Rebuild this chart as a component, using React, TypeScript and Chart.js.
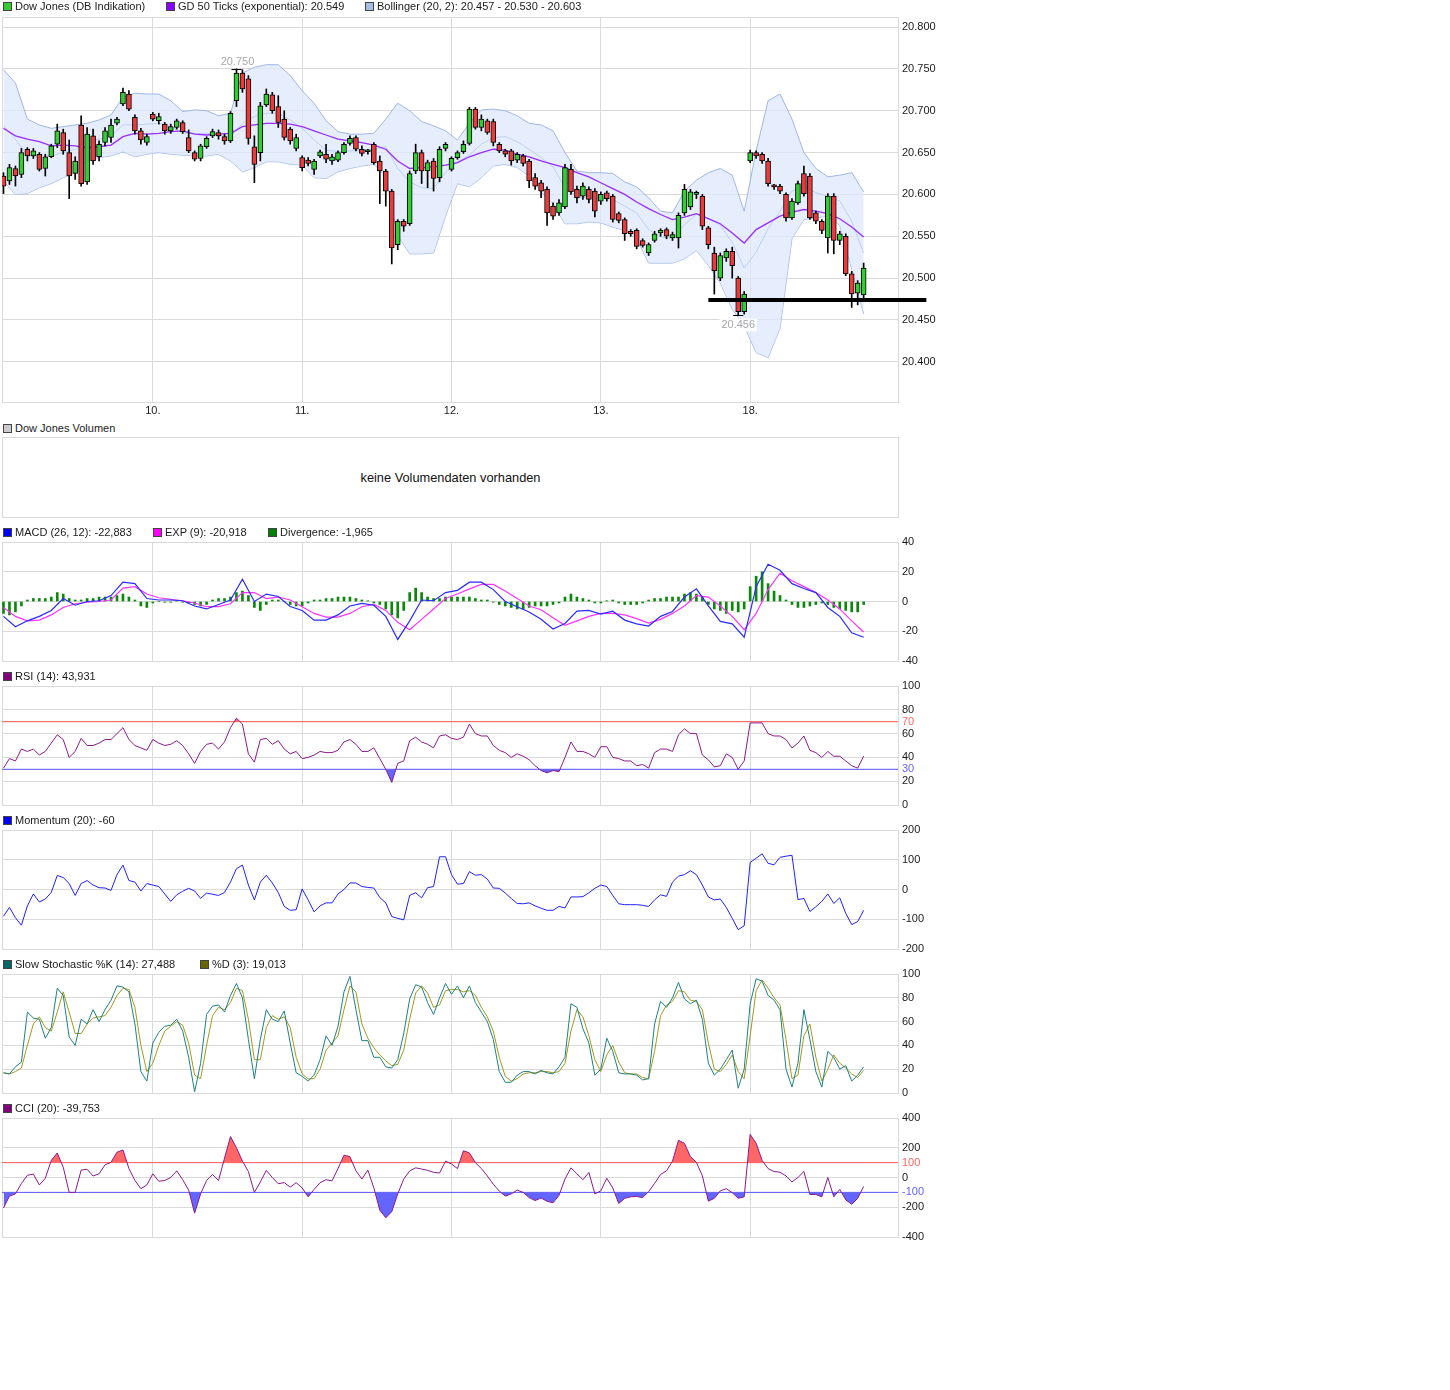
import React, { useEffect, useRef } from "react";
import { Chart, registerables } from "chart.js";

Chart.register(...registerables);

// ---------------- data ----------------
// x axis: one "slot" per tick period, day boundaries at these slots
const dayTicks = [50, 100, 150, 200, 250];
const dayLabels = ["10.", "11.", "12.", "13.", "18."];

// candles, one every 2 slots
const candleStep = 2;
const opens = [
  20622, 20616, 20631, 20624, 20654, 20646, 20648, 20631, 20645, 20660,
  20674, 20650, 20625, 20683, 20615, 20670, 20645, 20662, 20668, 20685,
  20708, 20720, 20692, 20676, 20662, 20696, 20688, 20684, 20676, 20680,
  20686, 20668, 20650, 20643, 20657, 20670, 20674, 20669, 20664, 20712,
  20745, 20738, 20657, 20650, 20707, 20719, 20705, 20690, 20678, 20655,
  20644, 20641, 20630, 20646, 20648, 20640, 20641, 20650, 20661, 20668,
  20654, 20651, 20660, 20640, 20628, 20604, 20540, 20568, 20565, 20628,
  20650, 20628, 20640, 20620, 20655, 20630, 20644, 20651, 20661, 20702,
  20680, 20688, 20687, 20660, 20652, 20652, 20641, 20646, 20640, 20620,
  20614, 20606, 20586, 20578, 20585, 20630, 20606, 20598, 20606, 20604,
  20592, 20602, 20598, 20577, 20570, 20556, 20557, 20545, 20530, 20545,
  20554, 20558, 20548, 20548, 20578, 20585, 20600, 20598, 20560, 20530,
  20500, 20524, 20532, 20500, 20460, 20640, 20650, 20648, 20640, 20610,
  20610, 20600, 20572, 20590, 20625, 20622, 20578, 20568, 20548, 20598,
  20545, 20550, 20505, 20482, 20480,
];
const highs = [
  20626, 20636, 20634, 20655, 20656, 20655, 20650, 20648, 20660, 20684,
  20678, 20665, 20645, 20694, 20680, 20678, 20664, 20680, 20690, 20692,
  20727, 20724, 20695, 20679, 20672, 20698, 20697, 20686, 20684, 20690,
  20688, 20677, 20652, 20660, 20669, 20678, 20677, 20672, 20699, 20750,
  20749, 20742, 20670, 20710, 20726, 20722, 20718, 20700, 20680, 20672,
  20646, 20644, 20642, 20653, 20660, 20648, 20652, 20662, 20670, 20670,
  20658, 20654, 20662, 20646, 20630, 20606, 20570, 20570, 20628, 20660,
  20653, 20641, 20643, 20657, 20662, 20645, 20652, 20664, 20704, 20704,
  20695, 20690, 20690, 20662, 20654, 20654, 20650, 20648, 20642, 20625,
  20617, 20609, 20590, 20594, 20636, 20636, 20610, 20614, 20609, 20607,
  20603, 20604, 20600, 20579, 20572, 20558, 20559, 20547, 20542, 20556,
  20559, 20560, 20555, 20578, 20612, 20606, 20604, 20600, 20562, 20537,
  20530, 20535, 20537, 20502, 20484, 20653, 20652, 20650, 20643, 20612,
  20612, 20602, 20595, 20616, 20634, 20625, 20580, 20570, 20601, 20601,
  20556, 20553, 20508, 20497, 20518,
];
const lows = [
  20601, 20612, 20610, 20620, 20640, 20643, 20628, 20622, 20644, 20656,
  20648, 20595, 20618, 20610, 20612, 20636, 20640, 20658, 20662, 20683,
  20706, 20700, 20672, 20660, 20659, 20688, 20684, 20672, 20673, 20678,
  20673, 20650, 20640, 20640, 20655, 20668, 20666, 20660, 20662, 20705,
  20722, 20660, 20614, 20640, 20705, 20697, 20680, 20665, 20660, 20652,
  20628, 20634, 20624, 20644, 20638, 20636, 20639, 20648, 20659, 20652,
  20646, 20648, 20636, 20589, 20586, 20517, 20534, 20556, 20563, 20625,
  20613, 20608, 20604, 20615, 20652, 20628, 20642, 20649, 20659, 20678,
  20676, 20672, 20658, 20650, 20645, 20635, 20638, 20634, 20608, 20606,
  20596, 20563, 20570, 20575, 20583, 20600, 20590, 20594, 20590, 20573,
  20588, 20592, 20567, 20566, 20545, 20550, 20535, 20537, 20527, 20543,
  20550, 20547, 20545, 20536, 20575, 20582, 20595, 20558, 20535, 20481,
  20497, 20520, 20500, 20456, 20457, 20638, 20643, 20637, 20610, 20606,
  20601, 20568, 20570, 20588, 20598, 20570, 20565, 20553, 20530, 20529,
  20540, 20503, 20465, 20468, 20476,
];
const closes = [
  20610, 20632, 20622, 20650, 20646, 20652, 20630, 20645, 20658, 20676,
  20652, 20622, 20640, 20613, 20672, 20640, 20660, 20676, 20683, 20690,
  20722, 20702, 20676, 20665, 20669, 20690, 20693, 20676, 20681, 20688,
  20675, 20652, 20642, 20658, 20667, 20675, 20670, 20664, 20697, 20745,
  20726, 20667, 20636, 20706, 20720, 20700, 20686, 20668, 20664, 20668,
  20632, 20637, 20640, 20651, 20642, 20645, 20650, 20660, 20667, 20654,
  20649, 20652, 20638, 20628, 20604, 20536, 20568, 20562, 20625, 20650,
  20628, 20638, 20619, 20654, 20660, 20643, 20650, 20660, 20702, 20680,
  20690, 20674, 20662, 20652, 20648, 20640, 20648, 20637, 20616, 20610,
  20604, 20578, 20574, 20590, 20632, 20603, 20596, 20610, 20594, 20580,
  20600, 20595, 20570, 20569, 20553, 20553, 20538, 20539, 20540, 20553,
  20557, 20550, 20552, 20575, 20606, 20603, 20601, 20562, 20540, 20509,
  20527, 20532, 20515, 20460, 20481, 20650, 20646, 20640, 20613, 20609,
  20604, 20572, 20592, 20613, 20601, 20572, 20568, 20557, 20598, 20545,
  20553, 20505, 20481, 20494, 20512,
];

// overlay lines and MACD, one value every 4 slots
const lineStep = 4;
const bollUpper = [
  20749, 20733, 20690, 20683, 20679, 20681, 20683, 20685, 20689, 20695,
  20716, 20721, 20720, 20720, 20712, 20699, 20701, 20700, 20694, 20697,
  20745, 20752, 20755, 20755, 20742, 20724, 20709, 20688, 20675, 20672,
  20672, 20673, 20690, 20709, 20700, 20687, 20682, 20676, 20665, 20685,
  20701, 20702, 20700, 20694, 20685, 20683, 20676, 20650, 20628, 20626,
  20626, 20625, 20615, 20609, 20596, 20580, 20578, 20604, 20617, 20626,
  20631, 20623, 20580, 20652, 20712, 20720, 20690, 20650, 20631, 20621,
  20623, 20626, 20603,
];
const bollMid = [
  20682, 20666, 20646, 20646, 20646, 20650, 20654, 20663, 20666, 20670,
  20683, 20683, 20684, 20685, 20681, 20673, 20673, 20673, 20671, 20669,
  20685, 20693, 20697, 20697, 20689, 20679, 20665, 20653, 20651, 20652,
  20653, 20654, 20657, 20631, 20615, 20608, 20607, 20626, 20639, 20647,
  20660, 20668, 20669, 20663, 20654, 20644, 20633, 20608, 20597, 20596,
  20596, 20594, 20586, 20578, 20558, 20549, 20548, 20564, 20576, 20571,
  20563, 20543, 20512, 20531, 20559, 20580, 20604, 20610, 20602, 20598,
  20592, 20568, 20530,
];
const bollLower = [
  20616, 20600, 20601, 20608, 20613, 20620, 20626, 20640, 20644, 20646,
  20651, 20645, 20648, 20650, 20648, 20647, 20646, 20646, 20648, 20640,
  20627, 20632, 20639, 20639, 20636, 20635, 20620, 20619, 20627, 20631,
  20634, 20636, 20622, 20551, 20529, 20529, 20530, 20574, 20613, 20609,
  20620, 20634, 20636, 20632, 20622, 20603, 20589, 20565, 20565, 20567,
  20566, 20561, 20557, 20547, 20518, 20518, 20518, 20523, 20533, 20515,
  20494, 20463, 20443, 20411, 20405, 20440, 20547, 20570, 20572, 20574,
  20563, 20511, 20457,
];
const gd50 = [
  20679, 20670, 20666, 20663, 20658, 20659, 20658, 20656, 20657, 20659,
  20669, 20673, 20672, 20673, 20675, 20676, 20672, 20671, 20672, 20673,
  20681, 20683, 20685, 20685, 20684, 20681, 20676, 20671, 20666, 20664,
  20662, 20659, 20654, 20640, 20631, 20632, 20633, 20635, 20638, 20645,
  20650, 20654, 20653, 20648, 20645, 20640, 20636, 20632, 20626, 20621,
  20614, 20607, 20600, 20591, 20583, 20576, 20570, 20573, 20577, 20571,
  20565, 20554, 20542, 20558, 20566, 20574, 20579, 20582, 20580, 20577,
  20571, 20561, 20549,
];
const supportLevel = 20474;
const supportFrom = 236;
const supportTo = 309;

const macd = [
  -10, -17, -13, -10, -6, 2, -2.5, 0, 0.5, 4,
  13, 12, 2, 1, 1, 0.5, -3, -5, -2, 1,
  15, 0, 5, 3.4, -3.4, -6, -12.5, -12.5, -9, -3,
  -1.3, -2.5, -10, -25.5, -13, 1, 0.5, 6, 7.5, 13,
  13, 8, 0, -3.5, -7, -12, -18.5, -14.8, -6.5, -6,
  -8.5, -6.5, -12.5, -15, -16.5, -10, -6.7, 3, 8.5, -3,
  -13.4, -15, -24, 10, 25, 21, 12, 8.7, 6, -4,
  -10, -21, -24,
];
const macdSignal = [
  -4, -10, -13, -12.5, -9, -4, -1.5, -0.5, 0, 1,
  9, 10, 5, 2.5, 1.5, 0.5, -1, -3.5, -3.5, -1.5,
  6, 6, 2, 3, 1, -3.5, -8, -10.5, -10.5, -8,
  -3.5, -2, -6, -14, -19, -12, -5, 2, 5, 8.5,
  11.5, 11.5, 7, 2, -3, -5.5, -11, -16, -13, -10,
  -8, -8, -9, -11.5, -14.5, -12, -8, -3, 4, 3,
  -3, -10, -19, -8, 8, 19, 14, 10, 6, 1,
  -5, -13, -20.5,
];

// divergence bars and oscillators, one value every 2 slots
const indStep = 2;
const divergence = [
  -8, -9, -7, -3, 1, 2, 2, 2, 3, 6,
  5, 2, 1, 1, 2, 2, 3, 3, 3, 4,
  5, 3, 1, -3, -4, -1, 0, -0.5, -0.5, 0.5,
  -0.5, -1, -2, -3, -2, 1, 2, 2, 3, 6,
  7, 4, -4, -6, -2, 1, 1, 0, -2, -3,
  -3, -1, 1, 1, 2, 2, 3, 3, 3, 2,
  1, 0.5, -1, -2, -5, -9, -11, -6, 6, 9,
  6, 3, 2, 2, 3, 3, 3, 3, 3, 2,
  1, 1, -0.5, -2, -3, -4, -5, -5, -4, -3,
  -3, -3, -2, -1, 3, 5, 3, 2, 1, -1,
  -1, 0.5, 1, -1, -2, -2, -2, -1, 1, 2,
  2, 3, 3, 3, 5, 6, 5, 3, -2, -5,
  -6, -8, -6, -7, -5, 10, 17, 20, 12, 7,
  4, 1, -2, -4, -4, -3, -2, -1, -2, -4,
  -5, -6, -7, -7, -2,
];
const rsi = [
  31, 39, 37, 47, 45, 47, 42, 45, 52, 59,
  55, 40, 45, 56, 50, 50, 52, 55, 55, 60,
  65, 55, 50, 48, 46, 55, 52, 50, 51, 54,
  50, 43, 35, 45, 51, 52, 47, 53, 65, 73,
  68, 43, 36, 55, 56, 51, 54, 47, 43, 45,
  39, 40, 42, 45, 44, 44, 46, 53, 55, 51,
  45, 45, 48, 39, 30, 19, 35, 37, 54, 57,
  53, 51, 48, 58, 59, 56, 55, 57, 68, 60,
  58, 58, 50, 46, 44, 40, 43, 41, 38, 33,
  29, 27, 29, 28, 40, 53, 45, 45, 43, 40,
  49, 49, 40, 39, 37, 37, 33, 34, 31, 44,
  47, 47, 45, 59, 64, 60, 60, 42, 38, 32,
  33, 43, 40, 30, 37, 69, 69, 69, 60, 58,
  58, 55, 48, 52, 58, 46, 44, 40, 45, 41,
  41, 37, 33, 31, 41,
];
const momentum = [
  -90, -60, -95, -120, -55, -15, -42, -32, -10, 47,
  40, 20, -20, 20, 30, 15, 6, 5, -3, 50,
  82, 30, 25, -5, 20, 15, 10, -15, -40, -18,
  -6, 4, -5, -30, -12, -16, -20, -10, 25, 70,
  82, 15, -35, 25, 48, 22, -10, -57, -70, -68,
  2, -35, -75, -55, -45, -45, -15, 0, 22, 22,
  10, 7, 5, -27, -45, -91, -97, -102, -20, -11,
  -28, 6, 10, 110, 110, 50, 18, 20, 60, 48,
  50, 35, 5, 4, -12, -30, -47, -48, -45, -55,
  -63, -70, -70, -57, -62, -25, -25, -24, -11, 4,
  15, 10, -20, -48, -51, -51, -51, -53, -57, -35,
  -18, -23, 25, 45, 50, 63, 50, 15, -25, -35,
  -32, -60, -97, -135, -122, 91, 105, 120, 88, 83,
  108, 112, 115, -34, -30, -74, -58, -40, -15, -47,
  -28, -80, -118, -108, -70,
];
const stochK = [
  17, 16, 22, 26, 68, 63, 62, 46, 55, 88,
  82, 47, 40, 62, 58, 70, 60, 70, 78, 90,
  89, 85, 58, 18, 10, 42, 51, 56, 57, 62,
  52, 30, 1, 25, 66, 73, 74, 68, 82, 92,
  80, 45, 12, 45, 70, 62, 60, 69, 42, 17,
  14, 10, 15, 28, 48, 40, 56, 85, 98, 70,
  44, 44, 30, 30, 22, 21, 28, 50, 79, 91,
  89, 76, 66, 80, 92, 83, 90, 80, 90, 76,
  68, 60, 45, 18, 9, 9, 15, 18, 18, 16,
  19, 17, 16, 22, 30, 75, 72, 54, 42, 15,
  20, 46, 35, 17, 16, 16, 15, 11, 12, 58,
  77, 72, 80, 93, 79, 75, 78, 62, 25, 15,
  20, 28, 36, 4, 20, 75, 96, 94, 82, 78,
  70, 20, 5, 25, 70, 45, 18, 5, 35, 30,
  20, 23, 10, 15, 22,
];
const stochD = [
  17, 16, 18, 21, 40, 58, 64, 55, 52, 68,
  85, 68, 50, 50, 58, 63, 64, 65, 72, 82,
  88, 87, 72, 40, 18, 25, 40, 52, 56, 60,
  57, 42, 15, 12, 40, 65, 72, 70, 76, 88,
  86, 62, 28, 28, 55, 65, 62, 64, 55, 30,
  16, 12, 12, 20, 36, 42, 48, 70, 90, 85,
  58, 46, 38, 32, 27, 23, 24, 36, 62, 84,
  90, 84, 72, 74, 86, 87, 87, 85, 86, 82,
  72, 64, 52, 30, 14, 10, 12, 16, 17, 17,
  18, 18, 17, 18, 25, 52, 70, 64, 48, 28,
  18, 32, 40, 26, 17, 16, 16, 13, 12, 35,
  65, 74, 77, 86, 85, 78, 77, 70, 42, 20,
  18, 24, 32, 18, 12, 48, 86, 95, 88, 80,
  74, 45, 12, 15, 48, 58, 30, 10, 20, 32,
  25, 21, 16, 13, 19,
];
const cci = [
  -205, -125, -110, -40, 15, 23, -50, -5, 115, 165,
  70, -100, -100, 50, 55, 10, 25, 85, 102, 170,
  185, 60, -20, -75, -50, 25, -25, -20, 0, 45,
  -15, -85, -240, -110, -20, 20, -20, 130, 275, 200,
  110, 40, -100, -30, 48, 0, -42, -34, -65, -35,
  -70, -130, -80, -35, -15, -23, 60, 150, 140, 45,
  -10, 50, -70, -220, -270, -230, -110, -11, 45, 65,
  57, 48, 35, 30, 110, 91, 60, 180, 165, 100,
  60, 10, -45, -91, -125, -110, -85, -100, -135, -155,
  -138, -160, -170, -120, -10, 65, 25, -15, 34, -110,
  -90, -5, -70, -175, -140, -130, -127, -135, -95, -40,
  20, 45, 110, 250, 230, 140, 102, 11, -159, -140,
  -90, -75, -102, -140, -130, 290, 230, 115, 60, 40,
  36, 10, -30, 0, 40, -114, -114, -130, 0, -130,
  -80, -150, -180, -140, -60,
];

// axis ticks and reference levels
const priceTicks = [20400, 20450, 20500, 20550, 20600, 20650, 20700, 20750, 20800];
const macdTicks = [-40, -20, 0, 20, 40];
const rsiTicks = [0, 20, 30, 40, 60, 70, 80, 100];
const momTicks = [-200, -100, 0, 100, 200];
const stochTicks = [0, 20, 40, 60, 80, 100];
const cciTicks = [-400, -200, -100, 0, 100, 200, 400];
const rsiHigh = 70;
const rsiLow = 30;
const cciHigh = 100;
const cciLow = -100;

// ---------------- styling ----------------
const FONT_FAMILY = "'Liberation Sans', Arial, Helvetica, sans-serif";
const TICK_FONT = { family: FONT_FAMILY, size: 11 };
const GRID = "#dadada";
const TEXT = "#1a1a1a";
const PLOT_W = 896;
const AXIS_W = 44;
const PAD = 12;
const SHIFT = 1;
const XMIN = -0.5;
const XMAX = 299.5;
const UP = "#33cc33";
const DOWN = "#e83c3c";
const CLEAR = "rgba(0,0,0,0)";
const RED_LINE = "#ff5a5a";
const BLUE_LINE = "#5a5aff";
const RED_FILL = "#ff6666";
const BLUE_FILL = "#6464ff";

const pts = (arr: number[], step: number) => arr.map((y, i) => ({ x: i * step, y }));
const level = (v: number) => [
  { x: XMIN, y: v },
  { x: XMAX, y: v },
];
const fmtPrice = (v: number) => (v / 1000).toFixed(3);
const intFmt = (v: number) => String(v);

const framePlugin = {
  id: "frame",
  beforeDatasetsDraw(chart: any) {
    const { ctx, chartArea: a } = chart;
    ctx.save();
    ctx.strokeStyle = GRID;
    ctx.lineWidth = 1;
    ctx.strokeRect(a.left + 0.5, a.top + 0.5, a.right - a.left, a.bottom - a.top);
    ctx.restore();
  },
};

const extremaPlugin = {
  id: "extrema",
  afterDatasetsDraw(chart: any) {
    const { ctx } = chart;
    const xs = chart.scales.x;
    const ys = chart.scales.y;
    const hi = Math.max(...highs);
    const hiI = highs.indexOf(hi);
    const lo = Math.min(...lows);
    const loI = lows.indexOf(lo);
    ctx.save();
    ctx.font = `11px ${FONT_FAMILY}`;
    ctx.textAlign = "center";
    ctx.strokeStyle = "#000";
    ctx.lineWidth = 1;
    const hx = xs.getPixelForValue(hiI * candleStep);
    const hy = Math.round(ys.getPixelForValue(hi)) + 0.5;
    ctx.beginPath();
    ctx.moveTo(hx - 5, hy);
    ctx.lineTo(hx + 5, hy);
    ctx.stroke();
    ctx.fillStyle = "#a8a8a8";
    ctx.textBaseline = "bottom";
    ctx.fillText(fmtPrice(hi), hx + 1, hy - 2);
    const lx = xs.getPixelForValue(loI * candleStep);
    const ly = Math.round(ys.getPixelForValue(lo)) + 0.5;
    ctx.beginPath();
    ctx.moveTo(lx - 5, ly);
    ctx.lineTo(lx + 5, ly);
    ctx.stroke();
    const t = fmtPrice(lo);
    const w = ctx.measureText(t).width;
    ctx.fillStyle = "rgba(255,255,255,0.85)";
    ctx.fillRect(lx - w / 2 - 2, ly + 3, w + 4, 13);
    ctx.fillStyle = "#a8a8a8";
    ctx.textBaseline = "top";
    ctx.fillText(t, lx, ly + 4);
    ctx.restore();
  },
};

function xScale(showLabels: boolean) {
  return {
    type: "linear",
    min: XMIN,
    max: XMAX,
    offset: false,
    afterBuildTicks: (s: any) => {
      s.ticks = dayTicks.map((v) => ({ value: v }));
    },
    afterFit: (s: any) => {
      s.height = showLabels ? 16 : 0;
    },
    grid: { color: GRID, drawTicks: false, lineWidth: 1, offset: false },
    border: { display: false },
    ticks: {
      display: showLabels,
      autoSkip: false,
      maxRotation: 0,
      padding: 2,
      font: TICK_FONT,
      color: TEXT,
      callback: (_v: any, i: number) => dayLabels[i],
    },
  };
}

function yScale(
  min: number,
  max: number,
  tickVals: number[],
  fmt: (v: number) => string,
  labelColors: Record<string, string> = {}
) {
  return {
    position: "right",
    min,
    max,
    afterBuildTicks: (s: any) => {
      s.ticks = tickVals.map((v) => ({ value: v }));
    },
    afterFit: (s: any) => {
      s.width = AXIS_W;
    },
    grid: { drawTicks: false, lineWidth: 1, color: GRID },
    border: { display: false },
    ticks: {
      autoSkip: false,
      padding: 4,
      font: TICK_FONT,
      color: (c: any) => (c.tick && labelColors[String(c.tick.value)]) || TEXT,
      callback: (v: any) => fmt(Number(v)),
    },
  };
}

function makeOptions(y: any, showLabels: boolean) {
  return {
    responsive: false,
    maintainAspectRatio: false,
    animation: false,
    devicePixelRatio: 1,
    events: [],
    layout: { padding: { top: PAD, bottom: showLabels ? 0 : PAD, left: 0, right: 0 } },
    plugins: { legend: { display: false }, tooltip: { enabled: false } },
    scales: { x: xScale(showLabels), y },
  };
}

const line = (data: any, color: string, width: number, order: number, extra: any = {}) => ({
  type: "line",
  data,
  borderColor: color,
  borderWidth: width,
  pointRadius: 0,
  tension: 0,
  fill: false,
  order,
  ...extra,
});

const mainConfig = () => ({
  type: "line",
  data: {
    datasets: [
      line(
        [
          { x: supportFrom, y: supportLevel },
          { x: supportTo, y: supportLevel },
        ],
        "#000",
        4,
        1,
        { clip: false }
      ),
      {
        type: "bar",
        data: opens.map((o, i) => ({ x: i * candleStep, y: [o, closes[i]] })),
        backgroundColor: opens.map((o, i) => (closes[i] >= o ? UP : DOWN)),
        borderColor: "#000",
        borderWidth: 1,
        borderSkipped: false,
        barThickness: 5,
        minBarLength: 2,
        grouped: false,
        order: 2,
      },
      {
        type: "bar",
        data: lows.map((l, i) => ({ x: i * candleStep, y: [l, highs[i]] })),
        backgroundColor: "#000",
        barThickness: 1,
        grouped: false,
        order: 3,
      },
      line(pts(gd50, lineStep), "#9a2cff", 1.3, 4),
      line(pts(bollMid, lineStep), "#bcd0f2", 1, 5),
      line(pts(bollUpper, lineStep), "#9fb6e3", 1, 6, {
        fill: "+1",
        backgroundColor: "rgba(222,232,252,0.75)",
      }),
      line(pts(bollLower, lineStep), "#9fb6e3", 1, 7),
    ],
  },
  options: makeOptions(yScale(20352, 20812, priceTicks, fmtPrice), true),
  plugins: [framePlugin, extremaPlugin],
});

const macdConfig = () => ({
  type: "line",
  data: {
    datasets: [
      line(pts(macd, lineStep), "#2a2aff", 1.2, 1),
      line(pts(macdSignal, lineStep), "#ff33ff", 1.2, 2),
      {
        type: "bar",
        data: divergence.map((v, i) => ({ x: i * indStep, y: v })),
        backgroundColor: "#0a880a",
        barThickness: 2,
        grouped: false,
        order: 3,
      },
    ],
  },
  options: makeOptions(yScale(-40, 40, macdTicks, intFmt), false),
  plugins: [framePlugin],
});

const bandedConfig = (
  values: number[],
  hiLvl: number,
  loLvl: number,
  min: number,
  max: number,
  ticks: number[]
) => ({
  type: "line",
  data: {
    datasets: [
      line(pts(values, indStep), "#8a1a8a", 1, 1, {
        fill: { target: { value: loLvl }, above: CLEAR, below: BLUE_FILL },
      }),
      line(pts(values, indStep), CLEAR, 1, 2, {
        fill: { target: { value: hiLvl }, above: RED_FILL, below: CLEAR },
      }),
      line(level(hiLvl), RED_LINE, 1, 3),
      line(level(loLvl), BLUE_LINE, 1, 4),
    ],
  },
  options: makeOptions(
    yScale(min, max, ticks, intFmt, { [String(hiLvl)]: RED_FILL, [String(loLvl)]: BLUE_FILL }),
    false
  ),
  plugins: [framePlugin],
});

const rsiConfig = () => bandedConfig(rsi, rsiHigh, rsiLow, 0, 100, rsiTicks);
const cciConfig = () => bandedConfig(cci, cciHigh, cciLow, -400, 400, cciTicks);

const momConfig = () => ({
  type: "line",
  data: { datasets: [line(pts(momentum, indStep), "#2020ff", 1, 1)] },
  options: makeOptions(yScale(-200, 200, momTicks, intFmt), false),
  plugins: [framePlugin],
});

const stochConfig = () => ({
  type: "line",
  data: {
    datasets: [
      line(pts(stochK, indStep), "#1f8080", 1, 1),
      line(pts(stochD, indStep), "#a09a20", 1, 2),
    ],
  },
  options: makeOptions(yScale(0, 100, stochTicks, intFmt), false),
  plugins: [framePlugin],
});

// ---------------- components ----------------
function ChartBox(props: { boxTop: number; boxHeight: number; labels: boolean; make: () => any }) {
  const ref = useRef<HTMLCanvasElement | null>(null);
  useEffect(() => {
    if (!ref.current) return;
    const chart = new Chart(ref.current, props.make() as any);
    return () => chart.destroy();
  }, []);
  const w = PLOT_W + AXIS_W;
  const h = PAD + props.boxHeight + (props.labels ? 16 : PAD);
  return (
    <canvas
      ref={ref}
      width={w}
      height={h}
      style={{
        position: "absolute",
        left: 2,
        top: props.boxTop - PAD + SHIFT,
        width: w,
        height: h,
        display: "block",
      }}
    />
  );
}

type LegendItem = { x: number; color: string; text: string };

function LegendRow(props: { y: number; items: LegendItem[] }) {
  return (
    <>
      {props.items.map((it, i) => (
        <div
          key={i}
          style={{
            position: "absolute",
            left: it.x,
            top: props.y - 7,
            height: 14,
            lineHeight: "14px",
            display: "flex",
            alignItems: "center",
            whiteSpace: "nowrap",
            font: `11px ${FONT_FAMILY}`,
            color: TEXT,
          }}
        >
          <span
            style={{
              display: "inline-block",
              width: 7,
              height: 7,
              background: it.color,
              border: "1px solid #444",
              marginRight: 3,
            }}
          />
          {it.text}
        </div>
      ))}
    </>
  );
}

export default function App() {
  return (
    <div style={{ position: "absolute", left: 0, top: 0, width: 1450, height: 1390, background: "#fff" }}>
      <ChartBox boxTop={16} boxHeight={385} labels={true} make={mainConfig} />
      <div
        style={{
          position: "absolute",
          left: 2,
          top: 437,
          width: 897,
          height: 81,
          boxSizing: "border-box",
          border: `1px solid ${GRID}`,
          display: "flex",
          alignItems: "center",
          justifyContent: "center",
          font: `12.8px ${FONT_FAMILY}`,
          color: "#111",
        }}
      >
        keine Volumendaten vorhanden
      </div>
      <ChartBox boxTop={541} boxHeight={119} labels={false} make={macdConfig} />
      <ChartBox boxTop={685} boxHeight={119} labels={false} make={rsiConfig} />
      <ChartBox boxTop={829} boxHeight={119} labels={false} make={momConfig} />
      <ChartBox boxTop={973} boxHeight={119} labels={false} make={stochConfig} />
      <ChartBox boxTop={1117} boxHeight={119} labels={false} make={cciConfig} />

      <LegendRow
        y={6}
        items={[
          { x: 3, color: "#33cc33", text: "Dow Jones (DB Indikation)" },
          { x: 166, color: "#8800ff", text: "GD 50 Ticks (exponential): 20.549" },
          { x: 365, color: "#a8bce8", text: "Bollinger (20, 2): 20.457 - 20.530 - 20.603" },
        ]}
      />
      <LegendRow y={428} items={[{ x: 3, color: "#cccccc", text: "Dow Jones Volumen" }]} />
      <LegendRow
        y={532}
        items={[
          { x: 3, color: "#0000ff", text: "MACD (26, 12): -22,883" },
          { x: 153, color: "#ff00ff", text: "EXP (9): -20,918" },
          { x: 268, color: "#008000", text: "Divergence: -1,965" },
        ]}
      />
      <LegendRow y={676} items={[{ x: 3, color: "#800080", text: "RSI (14): 43,931" }]} />
      <LegendRow y={820} items={[{ x: 3, color: "#0000ff", text: "Momentum (20): -60" }]} />
      <LegendRow
        y={964}
        items={[
          { x: 3, color: "#006666", text: "Slow Stochastic %K (14): 27,488" },
          { x: 200, color: "#666600", text: "%D (3): 19,013" },
        ]}
      />
      <LegendRow y={1108} items={[{ x: 3, color: "#800080", text: "CCI (20): -39,753" }]} />
    </div>
  );
}
